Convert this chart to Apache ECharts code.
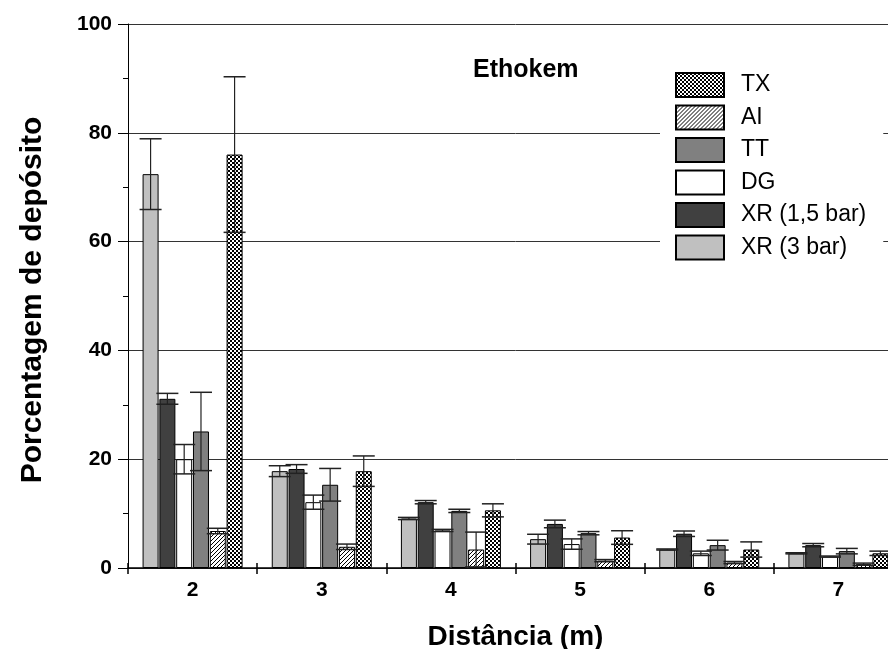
<!DOCTYPE html>
<html>
<head>
<meta charset="utf-8">
<script src="https://cdn.jsdelivr.net/npm/echarts@6/dist/echarts.min.js"></script>
<style>
html,body{margin:0;padding:0;background:#fff;overflow:hidden;width:888px;height:649px;}
#chart{width:903px;height:649px;}
</style>
</head>
<body>
<div id="chart"></div>
<script>
// ---- data ----
const categories = ['2', '3', '4', '5', '6', '7'];
const seriesNames = ['XR (3 bar)', 'XR (1,5 bar)', 'DG', 'TT', 'AI', 'TX'];
const legendOrder = ['TX', 'AI', 'TT', 'DG', 'XR (1,5 bar)', 'XR (3 bar)'];

const xr3     = [72.4, 17.8, 9.1, 5.3, 3.4, 2.7];
const xr3Err  = [6.5, 1.0, 0.2, 0.9, 0.1, 0.1];
const xr15    = [31.1, 18.2, 12.1, 8.1, 6.3, 4.2];
const xr15Err = [1.0, 0.8, 0.3, 0.7, 0.5, 0.3];
const dg      = [20.0, 12.1, 6.9, 4.4, 2.7, 2.1];
const dgErr   = [2.7, 1.3, 0.2, 0.95, 0.4, 0.1];
const tt      = [25.1, 15.3, 10.5, 6.4, 4.2, 3.1];
const ttErr   = [7.2, 3.0, 0.3, 0.3, 0.9, 0.5];
const ai      = [6.8, 3.9, 3.4, 1.35, 1.0, 0.7];
const aiErr   = [0.5, 0.5, 3.2, 0.2, 0.2, 0.2];
const tx      = [76.0, 17.8, 10.6, 5.6, 3.4, 2.7];
const txErr   = [14.3, 2.8, 1.2, 1.25, 1.4, 0.4];

const values = [xr3, xr15, dg, tt, ai, tx];
const errors = [xr3Err, xr15Err, dgErr, ttErr, aiErr, txErr];

// ---- styles ----
const FONT = '"Liberation Sans", Arial, Helvetica, sans-serif';
const BAR_W = 16;
const GAP_RATIO = 0.05;

function makeHatch() {
  const s = 4;
  const c = document.createElement('canvas');
  c.width = s; c.height = s;
  const ctx = c.getContext('2d');
  const img = ctx.createImageData(s, s);
  for (let y = 0; y < s; y++) for (let x = 0; x < s; x++) {
    const k = (y * s + x) * 4;
    const on = ((x + y) % s === s - 1);
    const v = on ? 0 : 255;
    img.data[k] = v; img.data[k + 1] = v; img.data[k + 2] = v; img.data[k + 3] = 255;
  }
  ctx.putImageData(img, 0, 0);
  return c;
}
function makeCross() {
  const c = document.createElement('canvas');
  c.width = 4; c.height = 4;
  const ctx = c.getContext('2d');
  ctx.fillStyle = '#000';
  ctx.fillRect(0, 0, 4, 4);
  ctx.fillStyle = '#fff';
  ctx.fillRect(0, 0, 2, 2);
  ctx.fillRect(2, 2, 2, 2);
  return c;
}

const fills = [
  '#c0c0c0',
  '#404040',
  '#ffffff',
  '#808080',
  { image: makeHatch(), repeat: 'repeat' },
  { image: makeCross(), repeat: 'repeat' }
];

const barSeries = seriesNames.map((name, i) => ({
  name: name,
  type: 'bar',
  xAxisIndex: 0,
  barWidth: BAR_W,
  barGap: (GAP_RATIO * 100) + '%',
  data: values[i],
  itemStyle: { color: fills[i], borderColor: '#000', borderWidth: 1 },
  emphasis: { disabled: true },
  z: 2
}));

const errData = [];
values.forEach((arr, si) => {
  arr.forEach((v, ci) => errData.push([ci, si, v, errors[si][ci]]));
});

function renderErr(params, api) {
  const ci = api.value(0), si = api.value(1), v = api.value(2), e = api.value(3);
  const n = seriesNames.length;
  const pitch = BAR_W * (1 + GAP_RATIO);
  const cx = api.coord([ci, v])[0] + (si - (n - 1) / 2) * pitch;
  const yHi = api.coord([ci, v + e])[1];
  const yLo = api.coord([ci, Math.max(v - e, 0)])[1];
  const capHalf = 11;
  const st = { stroke: '#222', lineWidth: 1.2 };
  const capSt = { stroke: '#222', lineWidth: 1.5 };
  return {
    type: 'group',
    children: [
      { type: 'line', shape: { x1: cx, y1: yHi, x2: cx, y2: yLo }, style: st },
      { type: 'line', shape: { x1: cx - capHalf, y1: yHi, x2: cx + capHalf, y2: yHi }, style: capSt },
      { type: 'line', shape: { x1: cx - capHalf, y1: yLo, x2: cx + capHalf, y2: yLo }, style: capSt }
    ]
  };
}

const chart = echarts.init(document.getElementById('chart'), null, { renderer: 'canvas' });
chart.setOption({
  animation: false,
  backgroundColor: '#fff',
  title: {
    text: 'Ethokem',
    left: 473, top: 58,
    padding: 0,
    textStyle: { fontFamily: FONT, fontWeight: 'bold', fontSize: 25, color: '#000' }
  },
  legend: {
    data: legendOrder,
    orient: 'vertical',
    left: 660, top: 64,
    padding: [8, 17, 8, 15],
    backgroundColor: '#fff',
    icon: 'rect',
    itemWidth: 48, itemHeight: 24, itemGap: 6.5,
    selectedMode: false,
    textStyle: { fontFamily: FONT, fontSize: 23, color: '#000', lineHeight: 24, padding: [2, 0, 0, 12] },
    z: 10
  },
  grid: { left: 128, right: 0, top: 24, bottom: 81, containLabel: false, outerBoundsMode: 'none' },
  xAxis: [{
    type: 'category',
    data: categories,
    name: 'Distância (m)',
    nameLocation: 'middle',
    nameGap: 55,
    nameTextStyle: { fontFamily: FONT, fontWeight: 'bold', fontSize: 28, color: '#000' },
    axisLine: { lineStyle: { color: '#000', width: 1.5 } },
    axisTick: { show: true, length: 6, lineStyle: { color: '#000', width: 1.5 } },
    axisLabel: { fontFamily: FONT, fontWeight: 'bold', fontSize: 21, color: '#000', margin: 12 },
    splitLine: { show: false }
  }, {
    type: 'category',
    data: categories,
    position: 'bottom',
    axisLine: { show: false },
    axisTick: { show: true, inside: true, length: 5, lineStyle: { color: '#000', width: 1.5 } },
    axisLabel: { show: false },
    splitLine: { show: false }
  }],
  yAxis: {
    type: 'value',
    min: 0, max: 100, interval: 20,
    name: 'Porcentagem de depósito',
    nameLocation: 'middle',
    nameGap: 80,
    nameTextStyle: { fontFamily: FONT, fontWeight: 'bold', fontSize: 30, color: '#000', padding: [0, 8, 0, 0] },
    axisLine: { show: true, lineStyle: { color: '#000', width: 1 } },
    axisTick: { show: true, length: 10, lineStyle: { color: '#000', width: 1 } },
    minorTick: { show: true, splitNumber: 2, length: 5, lineStyle: { color: '#000', width: 1 } },
    axisLabel: { fontFamily: FONT, fontWeight: 'bold', fontSize: 21, color: '#000', margin: 16 },
    splitLine: { show: true, lineStyle: { color: '#333', width: 1 } }
  },
  series: barSeries.concat([{
    name: 'err',
    type: 'custom',
    xAxisIndex: 0,
    renderItem: renderErr,
    data: errData,
    encode: { x: 0, y: 2 },
    z: 5,
    silent: true
  }])
});
</script>
</body>
</html>
